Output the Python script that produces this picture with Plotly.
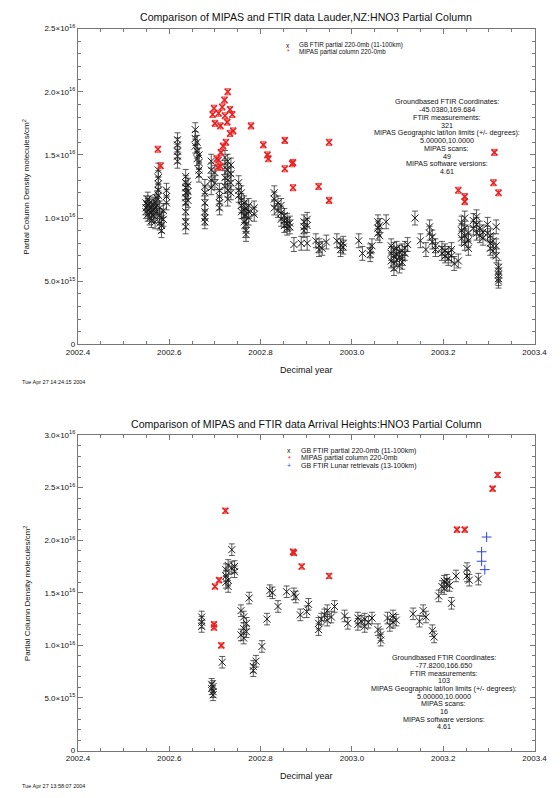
import plotly.graph_objects as go

# ---------------- DATA (column values in units of 1e16 molecules/cm^2) ----------------
# Lauder, NZ  - ground based FTIR (grouped by observation epoch)
lau_ftir_epoch = [2002.549, 2002.553, 2002.557, 2002.561, 2002.565, 2002.569, 2002.573, 2002.576,
                  2002.579, 2002.583, 2002.587, 2002.594, 2002.618, 2002.636, 2002.641, 2002.657,
                  2002.661, 2002.665, 2002.678, 2002.692, 2002.700, 2002.710, 2002.722, 2002.728,
                  2002.735, 2002.752, 2002.758, 2002.764, 2002.768, 2002.774, 2002.786, 2002.830,
                  2002.838, 2002.845, 2002.852, 2002.858, 2002.864, 2002.873, 2002.889, 2002.895,
                  2002.902, 2002.921, 2002.928, 2002.935, 2002.944, 2002.967, 2002.975, 2002.981,
                  2003.015, 2003.023, 2003.040, 2003.044, 2003.057, 2003.061, 2003.075, 2003.086,
                  2003.092, 2003.098, 2003.104, 2003.110, 2003.116, 2003.122, 2003.138, 2003.150,
                  2003.162, 2003.170, 2003.176, 2003.183, 2003.197, 2003.204, 2003.211, 2003.218,
                  2003.224, 2003.233, 2003.240, 2003.247, 2003.255, 2003.266, 2003.273, 2003.280,
                  2003.287, 2003.297, 2003.303, 2003.309, 2003.316, 2003.321]
lau_ftir_values = [[1.12, 1.08, 1.05], [1.10, 1.03, 1.15], [1.07, 1.00, 1.12], [1.09, 1.04, 0.98],
                   [1.11, 1.06, 1.02], [1.08, 1.13, 0.97], [1.05, 1.10, 1.16], [1.38, 1.32, 1.27, 1.22, 1.18],
                   [1.08, 1.02, 0.96], [1.00, 0.94, 0.90], [1.06, 0.99], [1.22, 1.17, 1.12],
                   [1.62, 1.58, 1.53, 1.49, 1.45], [1.33, 1.28, 1.24, 1.20, 1.16, 1.12, 1.05, 0.97, 0.93],
                   [1.26, 1.21, 1.14], [1.70, 1.63, 1.57], [1.60, 1.53, 1.47], [1.50, 1.44, 1.38, 1.34],
                   [1.25, 1.20, 1.12, 1.05, 1.00, 0.97], [1.45, 1.38, 1.30, 1.24], [1.36, 1.28],
                   [1.22, 1.17, 1.12, 1.08], [1.48, 1.40, 1.32, 1.25], [1.45, 1.38, 1.30, 1.22, 1.15],
                   [1.42, 1.35, 1.28, 1.20], [1.28, 1.22, 1.18], [1.20, 1.14, 1.10, 1.05],
                   [1.12, 1.06, 1.02, 0.97], [1.08, 1.02, 0.95, 0.90, 0.87], [1.05, 1.00, 1.10],
                   [1.08, 1.03], [1.20, 1.15, 1.08], [1.12, 1.06], [1.10, 1.04, 0.99], [1.02, 0.98, 0.94],
                   [0.98, 0.95, 0.92], [0.96, 0.93], [0.79], [0.80], [0.97, 0.93, 0.90], [0.99, 0.94, 0.80],
                   [0.82], [0.78, 0.75], [0.76], [0.81], [0.82], [0.78, 0.75], [0.80, 0.77],
                   [0.82], [0.72], [0.74, 0.71], [0.78], [0.97, 0.92, 0.88], [0.94, 0.86], [0.97],
                   [0.78, 0.72, 0.66], [0.75, 0.70, 0.64, 0.60], [0.76, 0.71, 0.67], [0.73, 0.69, 0.62],
                   [0.74, 0.68, 0.65], [0.72, 0.76], [0.79], [1.00], [0.82], [0.75], [0.93, 0.88],
                   [0.85, 0.81], [0.78, 0.75], [0.76, 0.72], [0.74, 0.70], [0.72, 0.68], [0.75, 0.70],
                   [0.64], [0.66], [0.96, 0.90, 0.84], [1.00, 0.92, 0.86, 0.80], [0.88, 0.82, 0.76],
                   [0.98, 0.92], [1.01, 0.95, 0.88], [0.92, 0.86], [0.89, 0.84], [0.95, 0.88],
                   [0.86, 0.80, 0.76], [0.82, 0.74], [0.93, 0.78, 0.70], [0.61, 0.58, 0.55, 0.52, 0.50]]

# Lauder, NZ - MIPAS
lau_mipas_year = [2002.575, 2002.581, 2002.728, 2002.721, 2002.698, 2002.716, 2002.733, 2002.695,
                  2002.708, 2002.722, 2002.738, 2002.700, 2002.712, 2002.727, 2002.779, 2002.733,
                  2002.740, 2002.724, 2002.718, 2002.713, 2002.708, 2002.712, 2002.704, 2002.706,
                  2002.806, 2002.815, 2002.817, 2002.853, 2002.871, 2002.869, 2002.853, 2002.871,
                  2002.950, 2002.927, 2002.950, 2003.233, 2003.247, 2003.247, 2003.312, 2003.310,
                  2003.321]
lau_mipas_col = [1.545, 1.414, 2.00, 1.935, 1.87, 1.88, 1.86, 1.82,
                 1.83, 1.81, 1.82, 1.75, 1.73, 1.76, 1.73, 1.67,
                 1.69, 1.60, 1.57, 1.52, 1.46, 1.41, 1.47, 1.40,
                 1.58, 1.50, 1.47, 1.615, 1.44, 1.43, 1.39, 1.24,
                 1.60, 1.25, 1.14, 1.22, 1.17, 1.13, 1.52, 1.28,
                 1.20]

# Arrival Heights - ground based FTIR
arh_ftir_epoch = [2002.671, 2002.693, 2002.696, 2002.716, 2002.724, 2002.729, 2002.737, 2002.743,
                  2002.757, 2002.763, 2002.769, 2002.775, 2002.784, 2002.790, 2002.803, 2002.814,
                  2002.820, 2002.826, 2002.838, 2002.857, 2002.873, 2002.877, 2002.887, 2002.901,
                  2002.905, 2002.927, 2002.933, 2002.940, 2002.946, 2002.955, 2002.962, 2002.984,
                  2002.991, 2003.013, 2003.020, 2003.028, 2003.036, 2003.044, 2003.057, 2003.063,
                  2003.078, 2003.083, 2003.090, 2003.097, 2003.134, 2003.148, 2003.156, 2003.162,
                  2003.176, 2003.180, 2003.190, 2003.197, 2003.202, 2003.208, 2003.214, 2003.218,
                  2003.228, 2003.252, 2003.257, 2003.277]
arh_ftir_values = [[1.27, 1.22, 1.18], [0.63, 0.59], [0.61, 0.56, 0.53], [0.84], [1.72, 1.66, 1.60],
                   [1.76, 1.62, 1.56], [1.91, 1.74], [1.75, 1.70], [1.33, 1.10], [1.27, 1.16, 1.07],
                   [1.21, 1.13], [1.45], [0.80, 0.76], [0.85], [0.99], [1.25], [1.52], [1.50], [1.37],
                   [1.51], [1.49], [1.46], [1.29], [1.32], [1.39], [1.21, 1.15], [1.25], [1.29],
                   [1.33, 1.24], [1.27], [1.37], [1.28], [1.21], [1.26, 1.20], [1.23], [1.25, 1.18],
                   [1.22], [1.26], [1.15], [1.10, 1.05], [1.26], [1.19], [1.28, 1.22], [1.24], [1.30],
                   [1.23], [1.33], [1.27], [1.14], [1.08], [1.47], [1.56], [1.61, 1.54], [1.62, 1.58],
                   [1.57], [1.40], [1.66], [1.73, 1.66], [1.62], [1.63]]

# Arrival Heights - MIPAS
arh_mipas_year = [2002.698, 2002.698, 2002.700, 2002.709, 2002.714, 2002.723, 2002.871, 2002.873,
                  2002.890, 2002.950, 2003.230, 2003.247, 2003.308, 2003.319]
arh_mipas_col = [1.20, 1.17, 1.56, 1.62, 1.00, 2.28, 1.89, 1.88,
                 1.75, 1.66, 2.10, 2.10, 2.49, 2.62]

# Arrival Heights - lunar FTIR retrievals
arh_lunar_year = [2003.284, 2003.284, 2003.291, 2003.295]
arh_lunar_col = [1.89, 1.80, 1.72, 2.03]

# ---------------- TEXT ----------------
titles = ["Comparison of MIPAS and FTIR data Lauder,NZ:HNO3 Partial Column",
          "Comparison of MIPAS and FTIR data Arrival Heights:HNO3 Partial Column"]
legend_top = ["GB FTIR partial 220-0mb (11-100km)", "MIPAS partial column 220-0mb"]
legend_bot = ["GB FTIR partial 220-0mb (11-100km)", "MIPAS partial column 220-0mb",
              "GB FTIR Lunar retrievals (13-100km)"]
info_top = ["Groundbased FTIR Coordinates:", "-45.0380,169.684", "FTIR measurements:", "321",
            "MIPAS Geographic lat/lon limits (+/- degrees):", "5.00000,10.0000", "MIPAS scans:",
            "49", "MIPAS software versions:", "4.61"]
info_bot = ["Groundbased FTIR Coordinates:", "-77.8200,166.650", "FTIR measurements:", "103",
            "MIPAS Geographic lat/lon limits (+/- degrees):", "5.00000,10.0000", "MIPAS scans:",
            "16", "MIPAS software versions:", "4.61"]
stamps = ["Tue Apr 27 14:24:15 2004", "Tue Apr 27 13:58:07 2004"]
x_ticks = [2002.4, 2002.6, 2002.8, 2003.0, 2003.2, 2003.4]
y_ticks_top = [0, 0.5, 1.0, 1.5, 2.0, 2.5]
y_ticks_bot = [0, 0.5, 1.0, 1.5, 2.0, 2.5, 3.0]
y_tick_text = ["0", "5.0×10<sup>15</sup>", "1.0×10<sup>16</sup>", "1.5×10<sup>16</sup>",
               "2.0×10<sup>16</sup>", "2.5×10<sup>16</sup>", "3.0×10<sup>16</sup>"]


def flatten(epochs, groups):
    xs, ys = [], []
    for e, g in zip(epochs, groups):
        for v in g:
            xs.append(e)
            ys.append(v)
    return xs, ys


lau_x, lau_y = flatten(lau_ftir_epoch, lau_ftir_values)
arh_x, arh_y = flatten(arh_ftir_epoch, arh_ftir_values)

W, H = 560, 798
FONT = "Liberation Sans, Arial, Helvetica, sans-serif"


def xp(px):
    return px / W


def yp(py):
    return 1 - py / H


fig = go.Figure()

ftir_style = dict(mode="markers", showlegend=False,
                  marker=dict(symbol="x-thin-open", size=7, color="#1a1a1a", line=dict(width=1, color="#1a1a1a")),
                  error_y=dict(type="constant", value=0.055, color="#333333", thickness=0.8, width=3))
mipas_style = dict(mode="markers", showlegend=False,
                   marker=dict(symbol="x-thin-open", size=6, color="#e82020", line=dict(width=1.6, color="#e82020")),
                   error_y=dict(type="constant", value=0.024, color="#f05050", thickness=1, width=3))

fig.add_trace(go.Scatter(x=lau_x, y=lau_y, xaxis="x", yaxis="y", **ftir_style))
fig.add_trace(go.Scatter(x=lau_mipas_year, y=lau_mipas_col, xaxis="x", yaxis="y", **mipas_style))
fig.add_trace(go.Scatter(x=arh_x, y=arh_y, xaxis="x2", yaxis="y2", **ftir_style))
fig.add_trace(go.Scatter(x=arh_mipas_year, y=arh_mipas_col, xaxis="x2", yaxis="y2", **mipas_style))
fig.add_trace(go.Scatter(x=arh_lunar_year, y=arh_lunar_col, xaxis="x2", yaxis="y2", mode="markers",
                         showlegend=False,
                         marker=dict(symbol="cross-thin-open", size=7, color="#3344dd",
                                     line=dict(width=1, color="#3344dd"))))

axis_common = dict(showline=True, linecolor="#777777", linewidth=1, mirror="allticks", ticks="inside",
                   ticklen=5, tickcolor="#777777", tickwidth=1, showgrid=False, zeroline=False,
                   tickfont=dict(family=FONT, size=8, color="#111111"))
xdom = [xp(69), xp(547)]
xaxis_cfg = dict(axis_common, range=[2002.4, 2003.4], tickvals=x_ticks, tickformat=".1f", domain=xdom,
                 minor=dict(dtick=0.05, tick0=2002.4, ticks="inside", ticklen=3, tickcolor="#777777"))
fig.update_layout(
    width=W, height=H, autosize=False, margin=dict(l=0, r=0, t=0, b=0),
    paper_bgcolor="white", plot_bgcolor="white",
    xaxis=dict(xaxis_cfg, anchor="y"),
    yaxis=dict(axis_common, range=[0, 2.5], tickvals=y_ticks_top, ticktext=y_tick_text[:6],
               domain=[yp(343), yp(23)], anchor="x",
               minor=dict(dtick=0.1, tick0=0, ticks="inside", ticklen=3, tickcolor="#777777")),
    xaxis2=dict(xaxis_cfg, anchor="y2"),
    yaxis2=dict(axis_common, range=[0, 3.0], tickvals=y_ticks_bot, ticktext=y_tick_text,
                domain=[yp(755), yp(435)], anchor="x2",
                minor=dict(dtick=0.1, tick0=0, ticks="inside", ticklen=3, tickcolor="#777777")),
)

ann = []


def text(x, y, s, size, color="#111111", xanchor="center", angle=0):
    ann.append(dict(x=xp(x), y=yp(y), xref="paper", yref="paper", text=s, showarrow=False,
                    xanchor=xanchor, yanchor="middle", textangle=angle,
                    font=dict(family=FONT, size=size, color=color)))


# titles
text(308, 11, titles[0], 10.6)
text(308, 424, titles[1], 10.6)
# axis titles and time stamps
for axis_mid, axis_bottom, stamp_y, stamp in [(183, 343, 381, stamps[0]), (595, 755, 791, stamps[1])]:
    text(15, axis_mid, "Partial Column Density molecules/cm<sup>2</sup>", 8, angle=-90)
    text(308, axis_bottom + 26, "Decimal year", 9)
    text(8, stamp_y, stamp, 5.5, xanchor="left")

# legends (symbol glyphs + labels)
leg_syms = [("x", "#111111"), ("*", "#e82020"), ("+", "#3344dd")]
for i, lab in enumerate(legend_top):
    y = 40 + 6.5 * i
    text(289, y, leg_syms[i][0], 6.5, color=leg_syms[i][1])
    text(298, y, lab, 6.3, xanchor="left")
for i, lab in enumerate(legend_bot):
    y = 451 + 7.5 * i
    text(290, y, leg_syms[i][0], 7, color=leg_syms[i][1])
    text(300, y, lab, 7, xanchor="left")

# info blocks
for i, line in enumerate(info_top):
    text(455, 97 + 7.9 * i, line, 7.2)
for i, line in enumerate(info_bot):
    text(452, 661 + 7.75 * i, line, 7.2)

fig.update_layout(annotations=ann)
fig.write_html("out.html")
